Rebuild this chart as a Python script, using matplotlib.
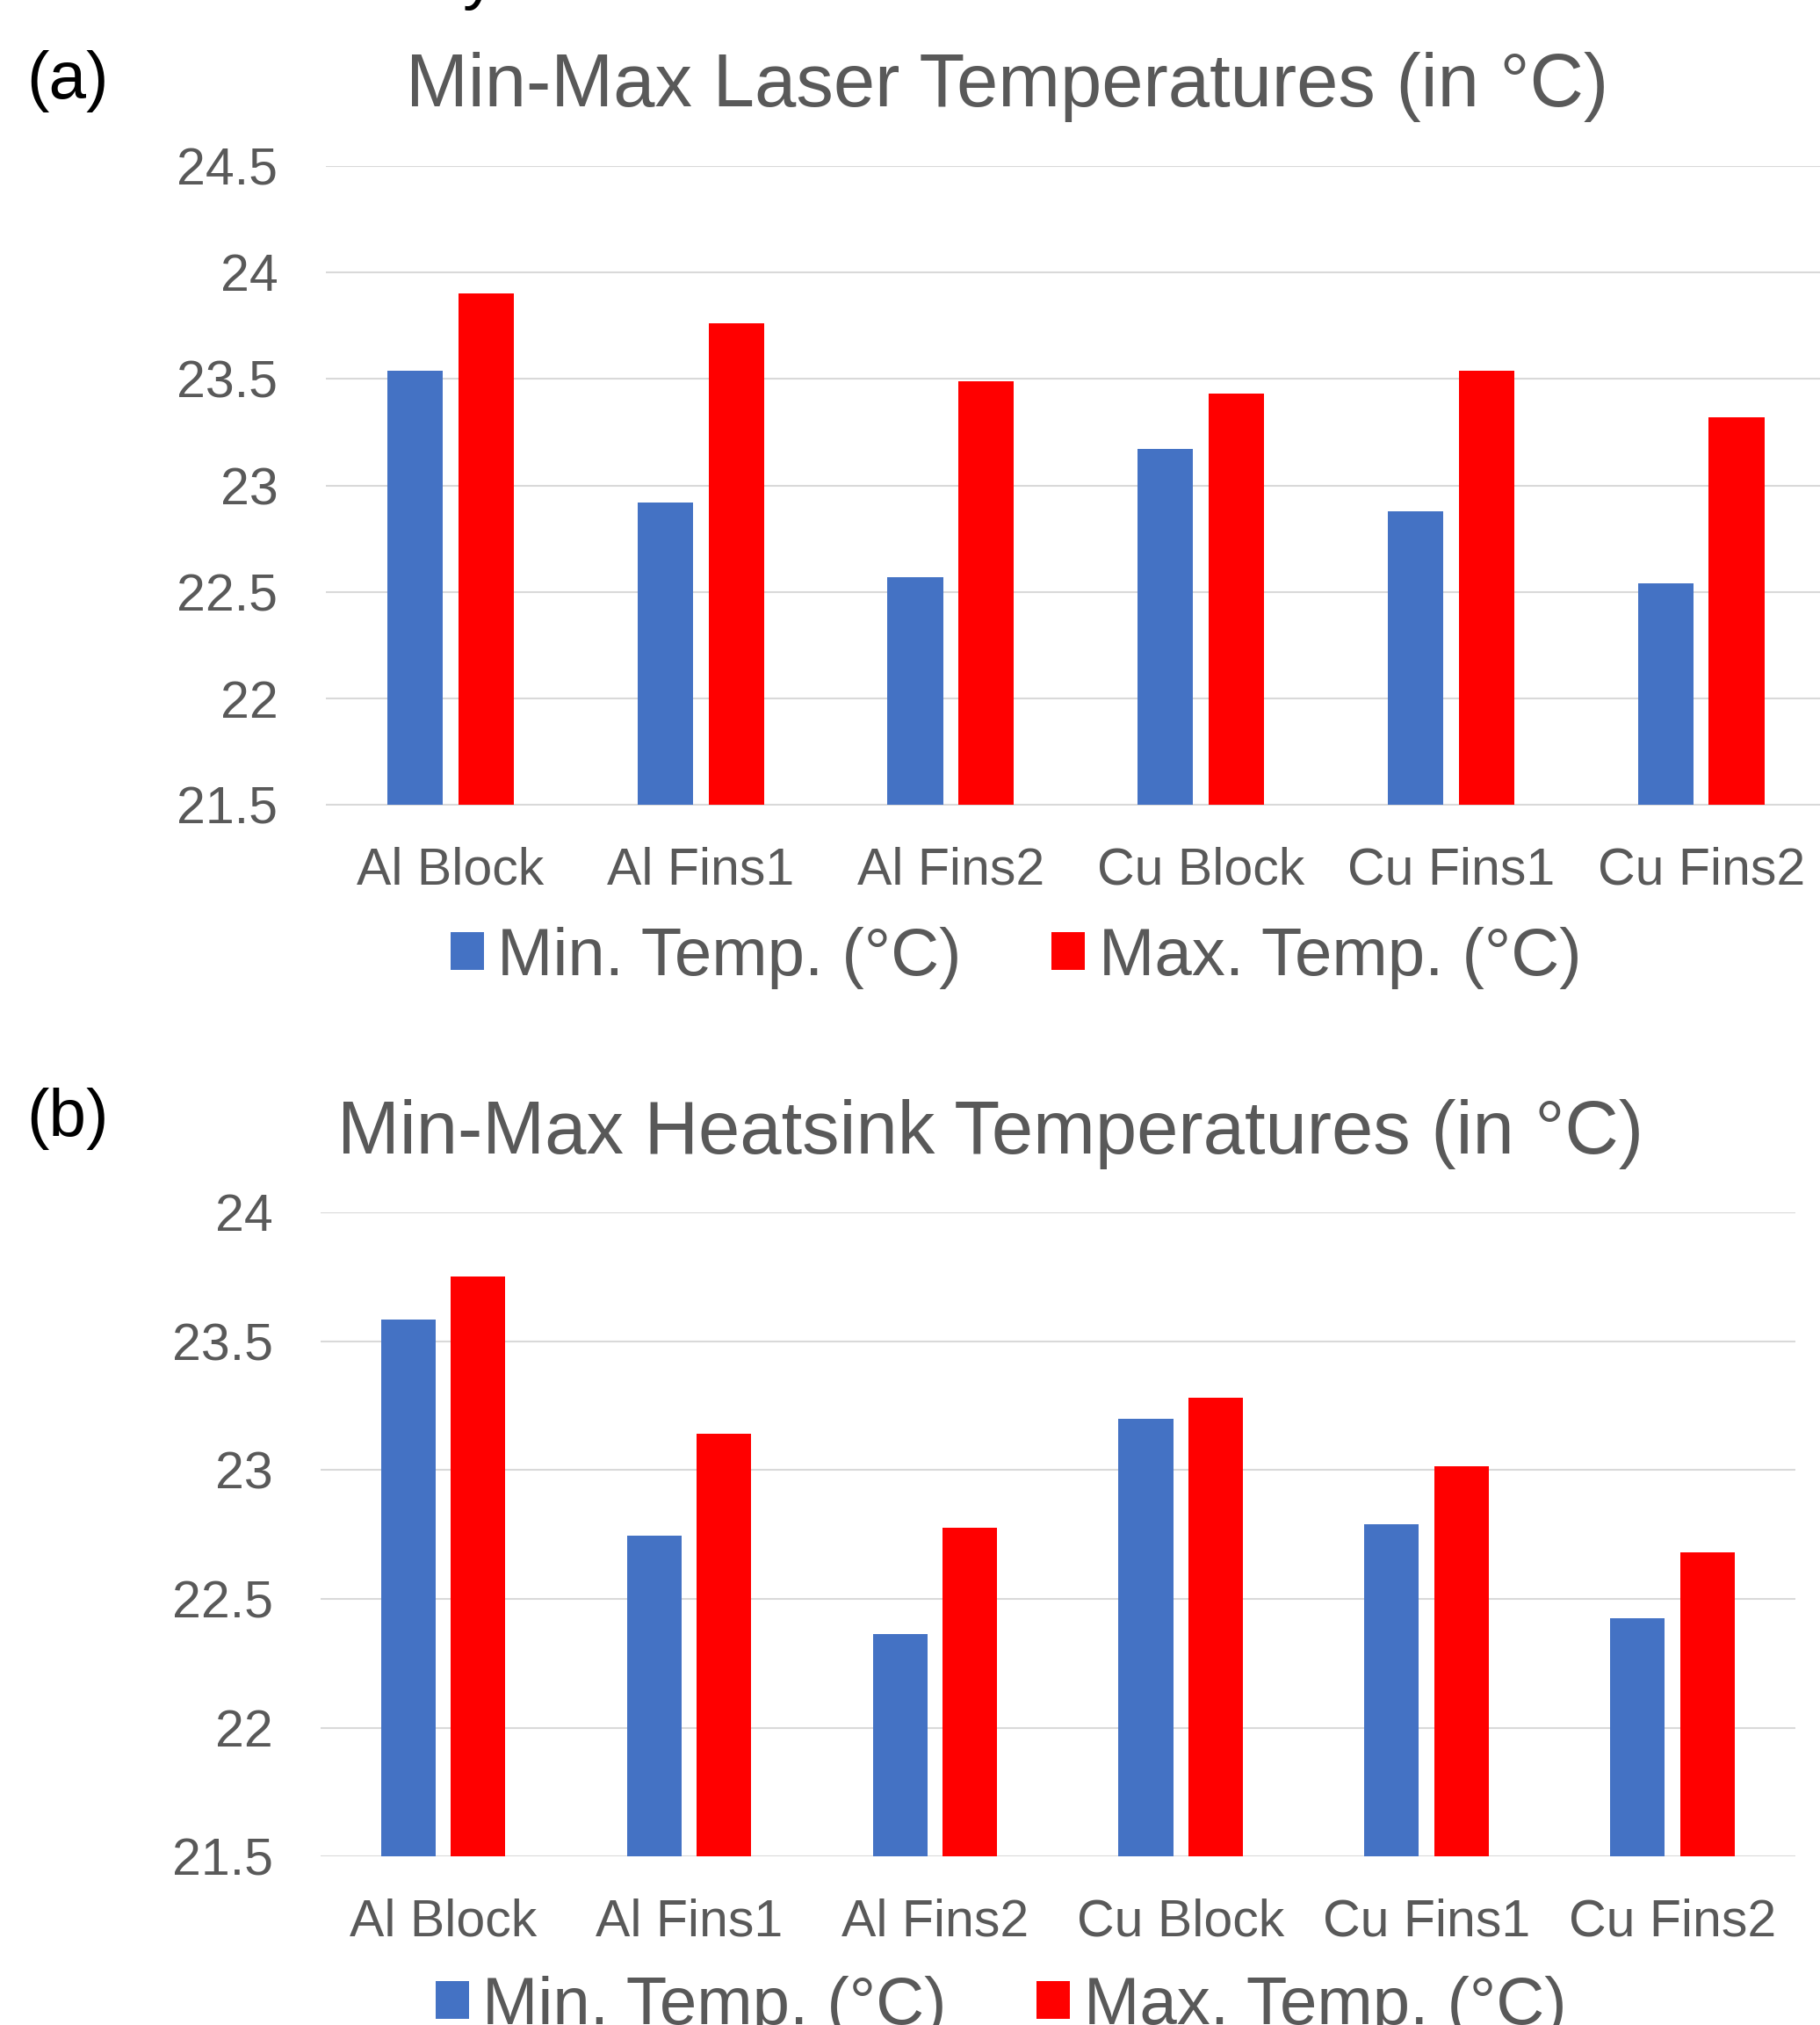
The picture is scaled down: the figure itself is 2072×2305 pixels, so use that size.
import numpy as np
import matplotlib.pyplot as plt
from matplotlib.patches import Patch

plt.rcParams['font.family'] = ['Liberation Sans', 'DejaVu Sans']

categories = ['Al Block', 'Al Fins1', 'Al Fins2', 'Cu Block', 'Cu Fins1', 'Cu Fins2']

# laser temperatures (deg C)
laser_min = [23.54, 22.92, 22.57, 23.17, 22.88, 22.54]
laser_max = [23.90, 23.76, 23.49, 23.43, 23.54, 23.32]

# heatsink temperatures (deg C)
sink_min = [23.585, 22.745, 22.365, 23.20, 22.79, 22.425]
sink_max = [23.75, 23.14, 22.775, 23.28, 23.015, 22.68]

laser_ticks = [21.5, 22, 22.5, 23, 23.5, 24, 24.5]
sink_ticks = [21.5, 22, 22.5, 23, 23.5, 24]

BLUE = '#4472C4'
RED = '#FF0000'
GREY = '#595959'
GRID = '#D9D9D9'

W, H = 2072, 2305
fig = plt.figure(figsize=(W / 100, H / 100), dpi=100)


def px_axes(left, top, right, bottom):
    return fig.add_axes([left / W, 1 - bottom / H, (right - left) / W, (bottom - top) / H])


def draw_panel(ax, vmin, vmax, ticks):
    x = np.arange(len(categories))
    w = 0.222
    off = 0.142
    ax.bar(x - off, np.array(vmin) - ticks[0], w, bottom=ticks[0], color=BLUE, zorder=3)
    ax.bar(x + off, np.array(vmax) - ticks[0], w, bottom=ticks[0], color=RED, zorder=3)
    ax.set_xlim(-0.5, len(categories) - 0.5)
    ax.set_ylim(ticks[0], ticks[-1])
    ax.set_yticks(ticks)
    ax.set_yticklabels(['%g' % t for t in ticks])
    ax.set_xticks(x)
    ax.set_xticklabels(categories)
    for s in ax.spines.values():
        s.set_visible(False)
    ax.grid(axis='y', color=GRID, linewidth=1.5, zorder=0)
    ax.tick_params(axis='y', length=0, pad=39, labelsize=42.5, labelcolor=GREY)
    ax.tick_params(axis='x', length=0, pad=34, labelsize=42.5, labelcolor=GREY)


ax1 = px_axes(370.6, 188.7, 2079, 916.5)
draw_panel(ax1, laser_min, laser_max, laser_ticks)

ax2 = px_axes(364.7, 1380, 2044, 2113.3)
draw_panel(ax2, sink_min, sink_max, sink_ticks)

handles = [Patch(facecolor=BLUE), Patch(facecolor=RED)]
labels = ['Min. Temp. (°C)', 'Max. Temp. (°C)']
for cx, cy in [(1156.5, 1090), (1139.5, 2284)]:
    fig.legend(handles, labels, loc='center', bbox_to_anchor=(cx / W, 1 - cy / H),
               ncol=2, frameon=False, fontsize=54.8, labelcolor=GREY,
               handlelength=0.5, handleheight=0.5, handletextpad=0.2,
               columnspacing=1.35, borderpad=0, borderaxespad=0)

fig.text(1147 / W, 1 - 120.7 / H, 'Min-Max Laser Temperatures (in °C)',
         ha='center', va='baseline', fontsize=61.2, color=GREY)
fig.text(1127 / W, 1 - 1313 / H, 'Min-Max Heatsink Temperatures (in °C)',
         ha='center', va='baseline', fontsize=61.2, color=GREY)

fig.text(30 / W, 1 - 111.5 / H, '(a)', ha='left', va='baseline', fontsize=55, color='black')
fig.text(30 / W, 1 - 1293 / H, '(b)', ha='left', va='baseline', fontsize=55, color='black')
# tail of a caption line sitting above the figure
fig.text(527 / W, 1 + 4 / H, 'y', ha='left', va='baseline', fontsize=55, color='black')

fig.savefig('out.png', dpi=100)
